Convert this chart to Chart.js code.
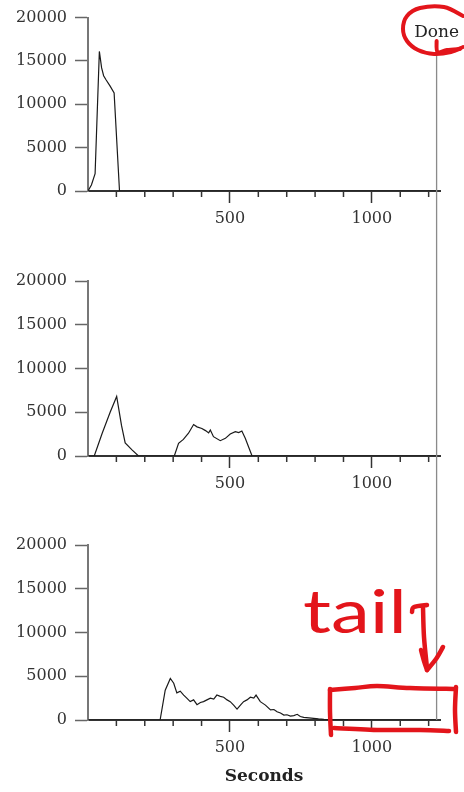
<!DOCTYPE html>
<html><head><meta charset="utf-8">
<script src="https://cdn.jsdelivr.net/npm/chart.js@4.4.1/dist/chart.umd.min.js"></script>
<style>
html,body{margin:0;padding:0;background:#fff;width:464px;height:792px;overflow:hidden}
#wrap{position:relative;width:464px;height:792px}
canvas{position:absolute;left:0}
</style></head><body>
<div id="wrap">
<canvas id="c1" style="top:0px" width="464" height="241"></canvas>
<canvas id="c2" style="top:260px" width="464" height="246"></canvas>
<canvas id="c3" style="top:520px" width="464" height="272"></canvas>
<canvas id="ov" style="top:0px;pointer-events:none" width="464" height="792"></canvas>
</div>
<script>
// ---- data ----
const axisMaxSeconds = 1240;
const doneSeconds = 1228;
const doneLabel = 'Done';
const xAxisTitle = 'Seconds';
const noteText = 'tail';
const xLabelTicks = [500, 1000];
const xMinorStep = 100;
const yTickStep = 5000;
const yMax = 20000;

const run1Seconds = [0, 12, 25, 40, 48, 55, 64, 78, 92, 111, 1228];
const run1Counts  = [0, 700, 2000, 16100, 14200, 13300, 12800, 12100, 11300, 0, 0];

const run2Seconds = [0, 22, 50, 78, 101, 118, 131, 155, 178, 304, 319, 336, 354, 372, 384, 401, 414, 425, 431, 442, 466, 484, 501, 519, 531, 542, 554, 578, 1228];
const run2Counts  = [0, 0, 2600, 5000, 6800, 3500, 1500, 700, 0, 0, 1450, 1900, 2600, 3600, 3330, 3150, 2900, 2640, 2970, 2210, 1750, 2020, 2510, 2780, 2670, 2860, 2020, 0, 0];

const run3Seconds = [0, 254, 272, 290, 302, 313, 325, 337, 348, 360, 372, 384, 396, 407, 419, 431, 443, 454, 466, 478, 490, 501, 513, 525, 537, 548, 560, 572, 584, 592, 607, 616, 625, 643, 655, 666, 678, 690, 701, 713, 725, 737, 748, 760, 778, 795, 812, 831, 860, 900, 950, 1000, 1228];
const run3Counts  = [0, 0, 3400, 4750, 4200, 3100, 3300, 2850, 2500, 2100, 2300, 1750, 2000, 2100, 2300, 2500, 2400, 2850, 2700, 2600, 2300, 2100, 1700, 1250, 1700, 2100, 2300, 2600, 2500, 2850, 2100, 1900, 1700, 1150, 1200, 950, 800, 570, 600, 450, 500, 650, 400, 300, 250, 190, 120, 80, 40, 20, 10, 0, 0];

// ---- drawing ----
const serif = '"DejaVu Serif", "Liberation Serif", serif';

const minorTicks = {
  id: 'minorTicks',
  afterDraw(chart) {
    const s = chart.scales.x, ctx = chart.ctx;
    ctx.save();
    ctx.strokeStyle = '#333';
    ctx.lineWidth = 1.5;
    for (let v = xMinorStep; v <= s.max; v += xMinorStep) {
      if (v % 500 === 0) continue;
      const px = s.getPixelForValue(v);
      ctx.beginPath();
      ctx.moveTo(px, s.top);
      ctx.lineTo(px, s.top + 6);
      ctx.stroke();
    }
    ctx.restore();
  }
};

function makeChart(id, secs, counts, padTop, xHeight, showTitle) {
  const pts = secs.map((s, i) => ({x: s, y: counts[i]}));
  return new Chart(document.getElementById(id), {
    type: 'line',
    data: {datasets: [{data: pts, borderColor: '#1a1a1a', borderWidth: 1.2, pointRadius: 0, tension: 0, fill: false}]},
    options: {
      responsive: false, animation: false, events: [],
      layout: {padding: {top: padTop, right: 24, left: 0, bottom: 0}},
      plugins: {legend: {display: false}, tooltip: {enabled: false}},
      scales: {
        x: {
          type: 'linear', min: 0, max: axisMaxSeconds,
          afterFit: s => { s.height = xHeight; },
          grid: {drawOnChartArea: false, drawTicks: true, tickLength: 12, tickWidth: 1.5,
                 tickColor: c => (c.tick && xLabelTicks.includes(c.tick.value)) ? '#333' : 'rgba(0,0,0,0)'},
          border: {display: true, color: '#333', width: 2},
          ticks: {stepSize: xMinorStep, autoSkip: false, includeBounds: false, maxRotation: 0, padding: 6,
                  color: '#333', font: {family: serif, size: 16},
                  callback: v => xLabelTicks.includes(v) ? String(v) : ''},
          title: {display: showTitle, text: xAxisTitle, color: '#222',
                  font: {family: serif, size: 17, weight: 'bold'}, padding: {top: 0, bottom: 5}}
        },
        y: {
          min: 0, max: yMax,
          afterFit: s => { s.width = 88; },
          grid: {drawOnChartArea: false, tickLength: 13, tickColor: '#666', tickWidth: 1.5},
          border: {display: true, color: '#777', width: 2},
          ticks: {stepSize: yTickStep, padding: 8, color: '#333', font: {family: serif, size: 16},
                  callback: v => String(v)}
        }
      }
    },
    plugins: [minorTicks]
  });
}

const ch1 = makeChart('c1', run1Seconds, run1Counts, 16, 50, false);
const ch2 = makeChart('c2', run2Seconds, run2Counts, 21, 50, false);
const ch3 = makeChart('c3', run3Seconds, run3Counts, 25, 72, true);

// ---- overlay: Done line + red pen notes ----
(function () {
  const ctx = document.getElementById('ov').getContext('2d');
  const doneX = ch3.scales.x.getPixelForValue(doneSeconds);
  const bottomY = 520 + ch3.chartArea.bottom;
  ctx.strokeStyle = '#8a8a8a';
  ctx.lineWidth = 1.3;
  ctx.beginPath();
  ctx.moveTo(doneX, 41);
  ctx.lineTo(doneX, bottomY);
  ctx.stroke();

  ctx.fillStyle = '#222';
  ctx.font = '17px ' + serif;
  ctx.textAlign = 'center';
  ctx.textBaseline = 'middle';
  ctx.fillText(doneLabel, doneX, 33);

  const red = '#e3151b';
  ctx.strokeStyle = red;
  ctx.lineCap = 'round';
  ctx.lineJoin = 'round';

  function smooth(points, w) {
    ctx.lineWidth = w;
    ctx.beginPath();
    ctx.moveTo(points[0][0], points[0][1]);
    for (let i = 0; i < points.length - 1; i++) {
      const p0 = points[i - 1] || points[i], p1 = points[i], p2 = points[i + 1], p3 = points[i + 2] || p2;
      ctx.bezierCurveTo(p1[0] + (p2[0] - p0[0]) / 6, p1[1] + (p2[1] - p0[1]) / 6,
                        p2[0] - (p3[0] - p1[0]) / 6, p2[1] - (p3[1] - p1[1]) / 6, p2[0], p2[1]);
    }
    ctx.stroke();
  }
  // circle round "Done"
  smooth([[463,16],[444,7],[420,8],[407,16],[403,29],[407,41],[418,50],[434,54],[451,52],[463,47]], 4);
  smooth([[doneX,41],[doneX+1,52],[447,50],[460,49]], 4);

  // "tail" note
  ctx.save();
  ctx.font = '60px Lato, "DejaVu Sans", sans-serif';
  ctx.textAlign = 'left';
  ctx.textBaseline = 'alphabetic';
  const w = ctx.measureText(noteText).width;
  ctx.translate(303, 633);
  ctx.scale(104 / w, 1);
  ctx.fillStyle = red;
  ctx.fillText(noteText, 0, 0);
  ctx.restore();

  // arrow
  smooth([[412,612],[414,607],[427,605]], 4.5);
  smooth([[423,607],[424,637],[427,668]], 4.5);
  smooth([[421,650],[424,661],[427,670]], 4.5);
  smooth([[443,647],[436,659],[427,670]], 4.5);

  // box around the tail
  smooth([[330,690],[355,688],[377,686],[410,688],[455,689]], 4.5);
  smooth([[330,689],[330,712],[331,735]], 4.5);
  smooth([[334,728],[380,730],[420,730],[449,731]], 4.5);
  smooth([[456,687],[455,710],[456,732]], 4.5);
})();
</script>
</body></html>
